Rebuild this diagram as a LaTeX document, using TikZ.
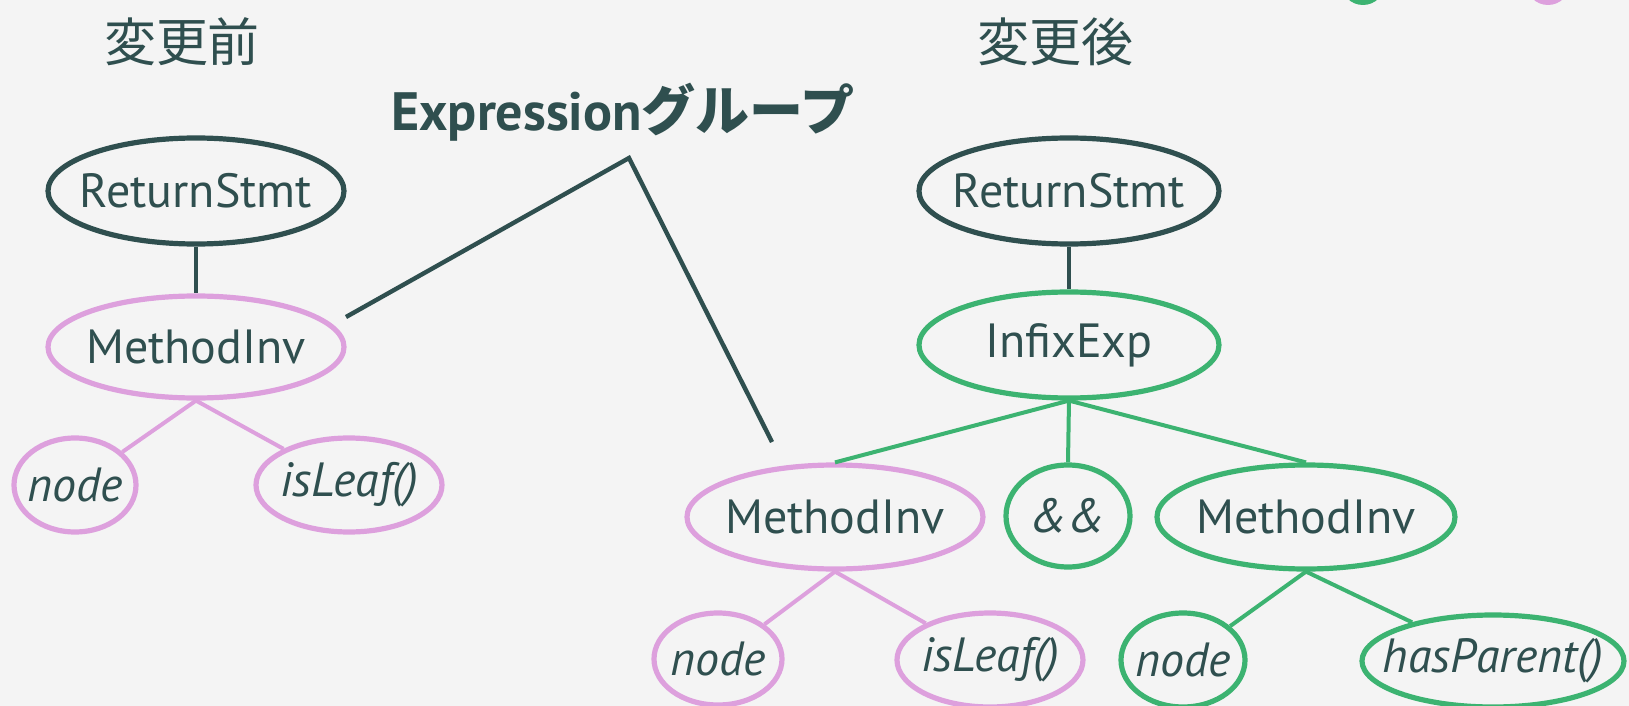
\documentclass[tikz,border=0pt]{standalone}
\usepackage{fontspec}
\setmainfont{PT Sans}
\newfontfamily\jp{Noto Sans CJK JP}
\usetikzlibrary{shapes.geometric}
\definecolor{ink}{HTML}{2F4F4F}
\definecolor{pinkline}{HTML}{DDA0DD}
\definecolor{greenline}{HTML}{3CB371}
\definecolor{bg}{HTML}{F4F4F4}
% 楕円の大きさを文字幅に左右させない
\newcommand{\lab}[1]{\makebox[0pt]{#1}}
\begin{document}
\begin{tikzpicture}[x=0.5pt, y=-0.5pt,
    ast/.style={ellipse, draw, line width=2.6pt, inner sep=0pt,
      font=\fontsize{24}{28}\selectfont},
    leaf/.style={ast, font=\fontsize{24}{28}\selectfont\itshape},
    pinkast/.style={draw=pinkline, text=ink},
    greenast/.style={draw=greenline, text=ink},
    inkast/.style={draw=ink, text=ink},
    edge/.style={line width=2pt}]
    % 背景
    \fill[bg] (0,0) rectangle (1629,706);
    \useasboundingbox (0,0) rectangle (1629,706);
    \fill[greenline] (1363,-17) circle (22);
    \fill[pinkline] (1548,-17) circle (22);

    % 見出し
    \node[text=ink, font=\jp\fontsize{26}{30}\selectfont] (before) at (182,42) {変更前};
    \node[text=ink, font=\jp\fontsize{26}{30}\selectfont] (after) at (1055,42) {変更後};
    \node[text=ink, font=\fontsize{27}{32}\selectfont\bfseries] (grp) at (623,112) {Expression{\jp\bfseries グループ}};

    % 変更前の木
    \node[ast, inkast, minimum width=148pt, minimum height=53pt] (rsA) at (196,191) {\lab{ReturnStmt}};
    \node[ast, pinkast, minimum width=148pt, minimum height=51pt] (miA) at (196,347) {\lab{MethodInv}};
    \node[leaf, pinkast, minimum width=61pt, minimum height=47pt] (nodeA) at (75,485) {\lab{node}};
    \node[leaf, pinkast, minimum width=93pt, minimum height=47pt] (leafA) at (349,485) {\lab{isLeaf()}};
    \draw[edge, ink] (rsA) -- (miA);
    \draw[edge, pinkline] (miA.south) -- (nodeA);
    \draw[edge, pinkline] (miA.south) -- (leafA);

    % 変更後の木
    \node[ast, inkast, minimum width=150pt, minimum height=53pt] (rsB) at (1069,191) {\lab{ReturnStmt}};
    \node[ast, greenast, minimum width=150pt, minimum height=53pt] (inf) at (1069,345) {\lab{InfixExp}};
    \node[ast, pinkast, minimum width=148pt, minimum height=52pt] (miB) at (835,517) {\lab{MethodInv}};
    \node[leaf, greenast, minimum width=62pt, minimum height=51pt] (amp) at (1068,516) {\lab{\&\&}};
    \node[ast, greenast, minimum width=149pt, minimum height=52pt] (miC) at (1306,517) {\lab{MethodInv}};
    \node[leaf, pinkast, minimum width=64pt, minimum height=46pt] (nodeB) at (718,659) {\lab{node}};
    \node[leaf, pinkast, minimum width=93pt, minimum height=47pt] (leafB) at (990,660) {\lab{isLeaf()}};
    \node[leaf, greenast, minimum width=62pt, minimum height=47pt] (nodeC) at (1183,660) {\lab{node}};
    \node[leaf, greenast, minimum width=131pt, minimum height=46pt] (par) at (1493,661) {\lab{hasParent()}};
    \draw[edge, ink] (rsB) -- (inf);
    \draw[edge, greenline] (inf.south) -- (miB.north);
    \draw[edge, greenline] (inf.south) -- (amp.north);
    \draw[edge, greenline] (inf.south) -- (miC.north);
    \draw[edge, pinkline] (miB.south) -- (nodeB);
    \draw[edge, pinkline] (miB.south) -- (leafB);
    \draw[edge, greenline] (miC.south) -- (nodeC);
    \draw[edge, greenline] (miC.south) -- (par);

    % グループを指す線
    \coordinate (apex) at (629,158);
    \coordinate (toA) at (346,317);
    \coordinate (toB) at (772,442);
    \draw[edge, ink, line width=2.2pt] (toA) -- (apex) -- (toB);
\end{tikzpicture}
\end{document}
